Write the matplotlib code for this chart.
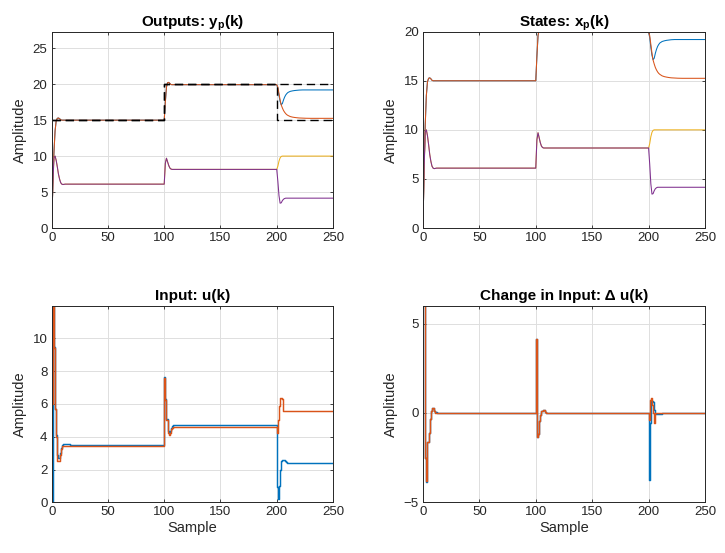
import matplotlib
matplotlib.use("Agg")
import matplotlib.pyplot as plt

plt.rcParams['font.family'] = ['Liberation Sans', 'DejaVu Sans']
plt.rcParams['mathtext.fontset'] = 'custom'
plt.rcParams['mathtext.rm'] = 'Liberation Sans'
plt.rcParams['mathtext.bf'] = 'Liberation Sans:bold'

# MATLAB default colour order
c_blue, c_orange, c_yellow, c_purple = '#0072BD', '#D95319', '#EDB120', '#7E2F8E'
c_axes = '#262626'

# ---- outputs / states (samples) ----
k_y = [0, 1, 2, 3, 4, 5, 6, 7, 8, 9, 10, 12, 20, 99,
       100, 101, 102, 103, 104, 105, 106, 107, 108, 110, 199,
       200, 201, 202, 203, 204, 205, 206, 207, 208, 209, 210, 212, 214, 216, 218, 220,
       223, 226, 230, 240, 250]
y1 = [0, 6, 10.5, 13.5, 14.9, 15.25, 15.3, 15.2, 15.05, 15.0, 15.0, 15.0, 15.0, 15.0,
      15.0, 17.5, 19.6, 20.2, 20.25, 20.1, 19.95, 19.93, 19.93, 19.93, 19.93,
      19.93, 19.4, 18.4, 17.6, 17.15, 17.3, 17.8, 18.2, 18.5, 18.7, 18.85, 19.0, 19.07, 19.12, 19.15, 19.18,
      19.2, 19.2, 19.2, 19.2, 19.2]
y2 = [0, 6, 10.5, 13.5, 14.9, 15.25, 15.3, 15.2, 15.05, 15.0, 15.0, 15.0, 15.0, 15.0,
      15.0, 17.5, 19.6, 20.2, 20.25, 20.1, 19.95, 19.93, 19.93, 19.93, 19.93,
      19.93, 19.6, 18.7, 17.8, 17.1, 16.7, 16.35, 16.1, 15.9, 15.75, 15.65, 15.5, 15.42, 15.37, 15.33, 15.3,
      15.28, 15.26, 15.25, 15.25, 15.25]
y3 = [0, 6, 9.8, 10.0, 9.4, 8.5, 7.5, 6.8, 6.3, 6.1, 6.05, 6.1, 6.1, 6.1,
      6.1, 9.0, 9.7, 9.2, 8.7, 8.35, 8.2, 8.15, 8.15, 8.15, 8.15,
      8.15, 8.6, 9.3, 9.75, 9.95, 10.0, 10.0, 10.0, 10.0, 10.0, 10.0, 10.0, 10.0, 10.0, 10.0, 10.0,
      10.0, 10.0, 10.0, 10.0, 10.0]
y4 = [0, 6, 9.8, 10.0, 9.4, 8.5, 7.5, 6.8, 6.3, 6.1, 6.05, 6.1, 6.1, 6.1,
      6.1, 9.0, 9.7, 9.2, 8.7, 8.35, 8.2, 8.15, 8.15, 8.15, 8.15,
      8.15, 6.5, 4.5, 3.45, 3.5, 3.8, 4.0, 4.1, 4.15, 4.15, 4.15, 4.15, 4.15, 4.15, 4.15, 4.15,
      4.15, 4.15, 4.15, 4.15, 4.15]
# states look identical to the outputs
x1, x2, x3, x4 = y1, y2, y3, y4

# set points
k_r1 = [0, 100, 250]
r1 = [15, 20, 20]
k_r2 = [0, 100, 200, 250]
r2 = [15, 20, 15, 15]

# ---- inputs (stairs) ----
k_u = [0, 1, 2, 3, 4, 5, 6, 7, 8, 9, 10, 16,
       100, 101, 102, 103, 104, 105, 106, 107, 108,
       200, 201, 202, 203, 204, 205, 206, 207, 208, 209, 210, 250]
u1 = [0, 12.6, 9.5, 5.7, 4.1, 2.9, 2.7, 3.0, 3.3, 3.5, 3.55, 3.5,
      7.62, 6.3, 5.1, 4.35, 4.2, 4.35, 4.55, 4.65, 4.7,
      0.95, 0.2, 1.0, 2.0, 2.5, 2.6, 2.6, 2.55, 2.45, 2.4, 2.4, 2.4]
u2 = [6, 12.6, 9.4, 5.7, 4.0, 2.55, 2.5, 2.9, 3.25, 3.42, 3.45, 3.43,
      7.6, 6.25, 5.05, 4.25, 4.1, 4.25, 4.45, 4.55, 4.6,
      4.22, 5.0, 5.9, 6.35, 6.35, 6.3, 5.6, 5.6, 5.6, 5.6, 5.6, 5.6]

# ---- change in input (stairs) ----
k_du = [0, 1, 2, 3, 4, 5, 6, 7, 8, 9, 10, 11, 12,
        100, 101, 102, 103, 104, 105, 106, 107, 108, 109,
        200, 201, 202, 203, 204, 205, 206, 207, 212, 250]
du1 = [6.5, 6.5, -2.5, -3.85, -1.6, -1.1, -0.35, 0.1, 0.3, 0.3, 0.1, 0.05, 0,
       4.15, -1.35, -1.2, -0.45, -0.1, 0.1, 0.15, 0.15, 0.05, 0,
       -3.75, -0.55, 0.65, 0.65, 0.6, 0.15, -0.05, -0.05, 0, 0]
du2 = [6.5, 6.5, -2.5, -3.8, -1.6, -1.1, -0.35, 0.1, 0.3, 0.3, 0.1, 0, 0,
       4.15, -1.35, -1.2, -0.45, -0.1, 0.1, 0.15, 0.15, 0.05, 0,
       -0.4, 0.75, 0.85, 0.45, 0.0, -0.55, 0, 0, 0, 0]

fig = plt.figure(figsize=(7.25, 5.53), dpi=100)
ax_y = fig.add_axes([0.0713, 0.5877, 0.388, 0.355])
ax_x = fig.add_axes([0.5834, 0.5877, 0.389, 0.355])
ax_u = fig.add_axes([0.0713, 0.0917, 0.388, 0.3555])
ax_du = fig.add_axes([0.5834, 0.0917, 0.389, 0.3555])

lw_top = 0.75
lw_bot = 1.05

for ax, ys in ((ax_y, (y1, y2, y3, y4)), (ax_x, (x1, x2, x3, x4))):
    for v, c in zip(ys, (c_blue, c_orange, c_yellow, c_purple)):
        ax.plot(k_y, v, color=c, lw=lw_top)

for kr, r in ((k_r1, r1), (k_r2, r2)):
    ax_y.plot(kr, r, color='k', lw=1.0, drawstyle='steps-post', dashes=(6, 3.5))

ax_u.plot(k_u, u1, color=c_blue, lw=lw_bot, drawstyle='steps-post')
ax_u.plot(k_u, u2, color=c_orange, lw=lw_bot, drawstyle='steps-post')
ax_du.plot(k_du, du1, color=c_blue, lw=lw_bot, drawstyle='steps-post')
ax_du.plot(k_du, du2, color=c_orange, lw=lw_bot, drawstyle='steps-post')

ax_y.set_ylim(0, 27.3)
ax_y.set_yticks([0, 5, 10, 15, 20, 25])
ax_x.set_ylim(0, 20)
ax_x.set_yticks([0, 5, 10, 15, 20])
ax_u.set_ylim(0, 12)
ax_u.set_yticks([0, 2, 4, 6, 8, 10])
ax_du.set_ylim(-5, 6)
ax_du.set_yticks([-5, 0, 5])

ax_y.set_title(r'Outputs: y$_\mathbf{p}$(k)', fontsize=11, fontweight='bold', pad=4)
ax_x.set_title(r'States: x$_\mathbf{p}$(k)', fontsize=11, fontweight='bold', pad=4)
ax_u.set_title('Input: u(k)', fontsize=11, fontweight='bold', pad=4)
ax_du.set_title('Change in Input: \u0394 u(k)', fontsize=11, fontweight='bold', pad=4)

for ax in (ax_y, ax_x, ax_u, ax_du):
    ax.set_xlim(0, 250)
    ax.set_xticks([0, 50, 100, 150, 200, 250])
    ax.grid(True, color='#dedede', lw=0.7)
    ax.set_axisbelow(True)
    ax.tick_params(direction='in', top=True, right=True, length=2.5, width=0.6,
                   labelsize=9.5, colors=c_axes, pad=3)
    for s in ax.spines.values():
        s.set_color(c_axes)
        s.set_linewidth(0.7)
    ax.set_ylabel('Amplitude', fontsize=10.5, color=c_axes)

ax_u.set_xlabel('Sample', fontsize=10.5, color=c_axes, labelpad=2)
ax_du.set_xlabel('Sample', fontsize=10.5, color=c_axes, labelpad=2)

fig.savefig('out.png', dpi=100)
